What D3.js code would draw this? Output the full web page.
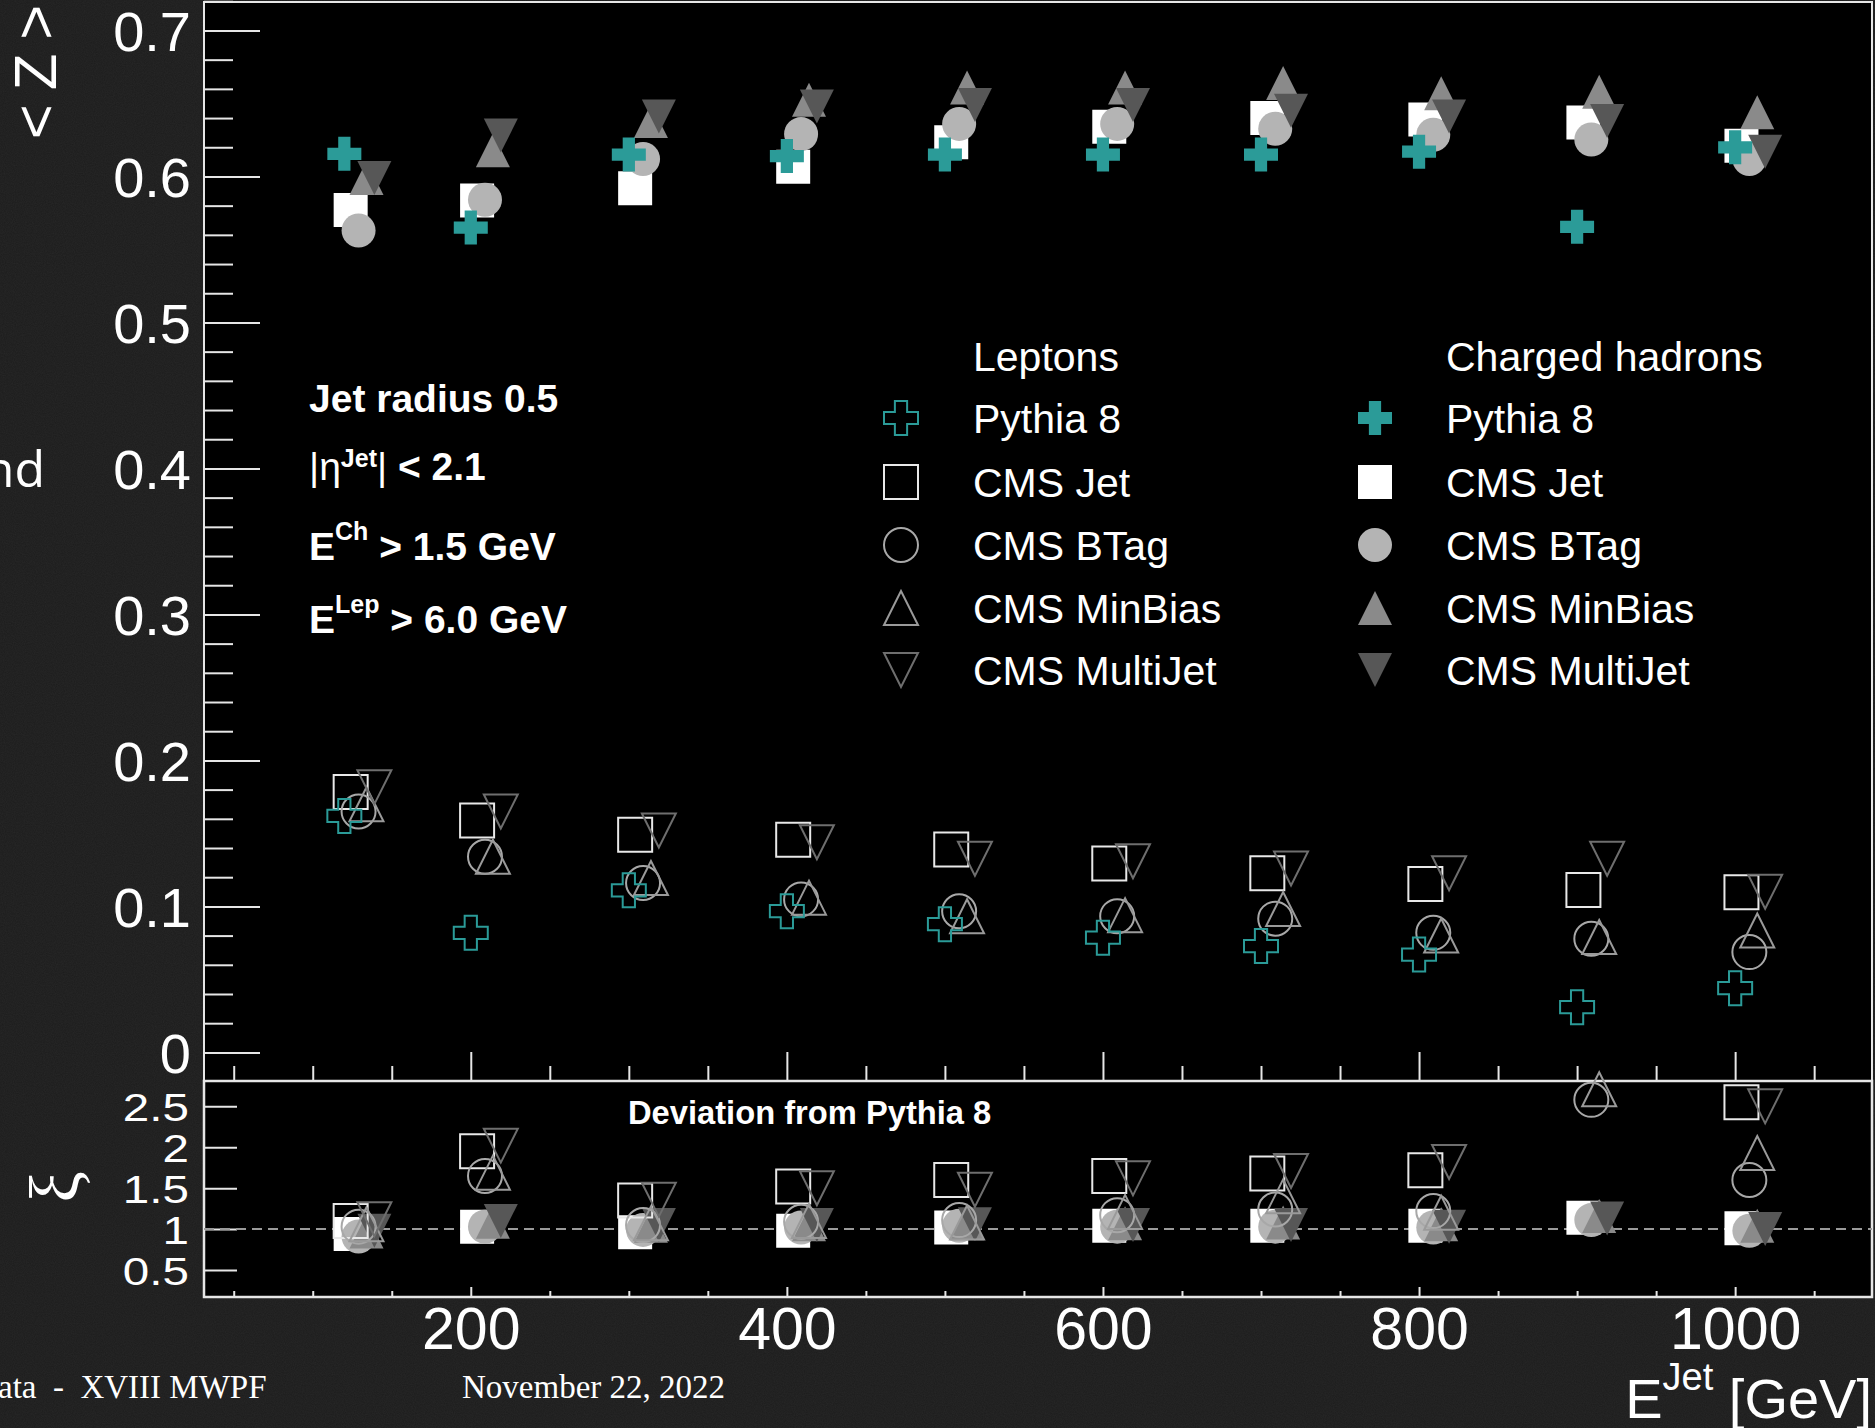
<!DOCTYPE html>
<html><head><meta charset="utf-8">
<script src="https://cdn.jsdelivr.net/npm/d3@7"></script>
<style>
html,body{margin:0;padding:0;background:#1c1c1c;}
svg{display:block;}
text{fill:#fff;}
</style></head><body>
<svg id="chart" width="1875" height="1428"></svg>
<script>
// Jet energy bins (GeV)
const energies = [120, 200, 300, 400, 500, 600, 700, 800, 900, 1000];

// <Z> for charged hadrons
const chPythia   = [0.6155, 0.565, 0.615, 0.614, 0.615, 0.615, 0.615, 0.617, 0.5655, 0.620];
const chJet      = [0.577, 0.5836, 0.592, 0.6066, 0.6235, 0.634, 0.640, 0.639, 0.637, 0.621];
const chBTag     = [0.563, 0.584, 0.612, 0.629, 0.636, 0.636, 0.6327, 0.6286, 0.6253, 0.612];
const chMinBias  = [0.599, 0.618, 0.638, 0.6525, 0.661, 0.661, 0.664, 0.657, 0.658, 0.644];
const chMultiJet = [0.599, 0.628, 0.641, 0.648, 0.649, 0.649, 0.645, 0.641, 0.638, 0.617];

// <Z> for leptons
const lepPythia   = [0.162, 0.0819, 0.111, 0.0967, 0.0878, 0.0786, 0.0728, 0.067, 0.031, 0.044];
const lepJet      = [0.1784, 0.1588, 0.149, 0.1457, 0.139, 0.1293, 0.1227, 0.1154, 0.1113, 0.1097];
const lepBTag     = [0.165, 0.134, 0.116, 0.1048, 0.0967, 0.0933, 0.0916, 0.0819, 0.0778, 0.0687];
const lepMinBias  = [0.170, 0.134, 0.1195, 0.106, 0.0933, 0.094, 0.0982, 0.080, 0.079, 0.0835];
const lepMultiJet = [0.1817, 0.165, 0.152, 0.144, 0.1326, 0.131, 0.126, 0.1227, 0.1326, 0.110];

// Deviation from Pythia 8 (CMS / Pythia)
const rChJet      = [0.94, 1.03, 0.96, 0.98, 1.02, 1.04, 1.04, 1.04, 1.14, 1.01];
const rChBTag     = [0.91, 1.03, 0.99, 1.02, 1.04, 1.03, 1.03, 1.02, 1.11, 0.98];
const rChMinBias  = [0.97, 1.09, 1.04, 1.06, 1.07, 1.07, 1.08, 1.06, 1.16, 1.04];
const rChMultiJet = [0.98, 1.10, 1.05, 1.05, 1.06, 1.05, 1.05, 1.03, 1.13, 1.00];
const rLepJet      = [1.10, 1.95, 1.35, 1.52, 1.60, 1.65, 1.68, 1.72, 3.59, 2.55];
const rLepBTag     = [1.03, 1.65, 1.05, 1.09, 1.11, 1.17, 1.24, 1.22, 2.58, 1.60];
const rLepMinBias  = [1.06, 1.69, 1.07, 1.10, 1.08, 1.21, 1.40, 1.20, 2.71, 1.93];
const rLepMultiJet = [1.12, 2.02, 1.36, 1.50, 1.48, 1.62, 1.71, 1.82, 4.28, 2.50];

// Axis ticks
const xMajorTicks = [200, 400, 600, 800, 1000];
const zMajorTicks = [0, 0.1, 0.2, 0.3, 0.4, 0.5, 0.6, 0.7];
const ratioTicks  = [0.5, 1, 1.5, 2, 2.5];

const TEAL = "#2b9b98";
const SANS = "Liberation Sans, Arial, Helvetica, sans-serif";
const SERIF = "Liberation Serif, Times New Roman, serif";

// marker look for each source; "shift" spreads the markers of one bin in GeV
const sources = [
  {name: "Pythia 8",     shape: "cross",   shift: 0,  chFill: TEAL,      lepStroke: TEAL},
  {name: "CMS Jet",      shape: "square",  shift: 4,  chFill: "#ffffff", lepStroke: "#e8e8e8"},
  {name: "CMS BTag",     shape: "circle",  shift: 9,  chFill: "#b4b4b4", lepStroke: "#a8a8a8"},
  {name: "CMS MinBias",  shape: "triUp",   shift: 14, chFill: "#8a8a8a", lepStroke: "#9a9a9a"},
  {name: "CMS MultiJet", shape: "triDown", shift: 19, chFill: "#575757", lepStroke: "#6e6e6e"}
];
const chZ   = [chPythia, chJet, chBTag, chMinBias, chMultiJet];
const lepZ  = [lepPythia, lepJet, lepBTag, lepMinBias, lepMultiJet];
const chR   = [null, rChJet, rChBTag, rChMinBias, rChMultiJet];
const lepR  = [null, rLepJet, rLepBTag, rLepMinBias, rLepMultiJet];

const svg = d3.select("#chart").style("font-family", SANS);
const L = 204, R = 1872, T = 2, MID = 1081, B = 1297;

const x = d3.scaleLinear().domain([31.2, 1086.6]).range([L, R]);
const yZ = d3.scaleLinear().domain([-0.0196, 0.7195]).range([MID, T]);
const yR = d3.scaleLinear().domain([0.17, 2.81]).range([B, MID]);

// subtle grain on the page background
const defs = svg.append("defs");
const grain = defs.append("filter").attr("id", "grain").attr("x", 0).attr("y", 0).attr("width", "100%").attr("height", "100%");
grain.append("feTurbulence").attr("type", "fractalNoise").attr("baseFrequency", 0.9).attr("numOctaves", 2).attr("seed", 3);
grain.append("feColorMatrix").attr("values", "0 0 0 0 1  0 0 0 0 1  0 0 0 0 1  0 0 0 0.05 0");
svg.append("rect").attr("width", 1875).attr("height", 1428).attr("fill", "#1c1c1c");
svg.append("rect").attr("width", 1875).attr("height", 1428).attr("filter", "url(#grain)");

// pad frames
svg.append("rect").attr("x", L).attr("y", T).attr("width", R - L).attr("height", MID - T).attr("fill", "#000");
svg.append("rect").attr("x", L).attr("y", MID).attr("width", R - L).attr("height", B - MID).attr("fill", "#000");

function markerPath(shape, s) {
  const h = s / 2, a = s * 0.18;
  switch (shape) {
    case "square":  return `M${-h},${-h}H${h}V${h}H${-h}Z`;
    case "circle":  return d3.symbol(d3.symbolCircle, Math.PI * h * h)();
    case "triUp":   return `M${-h},${h}L${h},${h}L0,${-h}Z`;
    case "triDown": return `M${-h},${-h}L${h},${-h}L0,${h}Z`;
    case "cross":   return `M${-a},${-h}H${a}V${-a}H${h}V${a}H${a}V${h}H${-a}V${a}H${-h}V${-a}H${-a}Z`;
  }
}
const MS = 34;
function styleMarker(sel, src, filled) {
  if (filled) sel.attr("fill", src.chFill).attr("stroke", "none");
  else sel.attr("fill", "none").attr("stroke", src.lepStroke).attr("stroke-width", 2);
}

// ---------- axes: upper pad ----------
const axisFont = g => g.attr("font-family", null).selectAll("text").attr("fill", "#fff").style("font-family", SANS);
const axisLine = g => { g.select(".domain").remove(); g.selectAll("line").attr("stroke", "#e6e6e6").attr("stroke-width", 2); };

const zMinor = d3.range(0, 0.7201, 0.02).filter(v => !zMajorTicks.some(m => Math.abs(m - v) < 1e-6));
svg.append("g").attr("transform", `translate(${L},0)`)
  .call(d3.axisLeft(yZ).tickValues(zMinor).tickSizeInner(-29).tickSizeOuter(0).tickFormat(""))
  .call(axisLine);
svg.append("g").attr("transform", `translate(${L},0)`)
  .call(d3.axisLeft(yZ).tickValues(zMajorTicks).tickSizeInner(-56).tickSizeOuter(0).tickPadding(13).tickFormat(d => String(+d.toFixed(1))))
  .call(axisLine).call(axisFont)
  .selectAll("text").attr("font-size", 56).attr("dy", "0.36em");

const xMinor = d3.range(50, 1086, 50).filter(v => !xMajorTicks.includes(v));
svg.append("g").attr("transform", `translate(0,${MID})`)
  .call(d3.axisBottom(x).tickValues(xMinor).tickSizeInner(-15).tickSizeOuter(0).tickFormat(""))
  .call(axisLine);
svg.append("g").attr("transform", `translate(0,${MID})`)
  .call(d3.axisBottom(x).tickValues(xMajorTicks).tickSizeInner(-29).tickSizeOuter(0).tickFormat(""))
  .call(axisLine);

// ---------- axes: ratio pad ----------
svg.append("g").attr("transform", `translate(${L},0)`)
  .call(d3.axisLeft(yR).tickValues(ratioTicks).tickSizeInner(-33).tickSizeOuter(0).tickPadding(15).tickFormat(d => String(d)))
  .call(axisLine).call(axisFont)
  .selectAll("text").attr("font-size", 39)
  .each(function () {
    const t = d3.select(this);
    const xx = +t.attr("x");
    t.attr("x", 0).attr("y", 0).attr("dy", "0.36em")
     .attr("transform", `translate(${xx},0) scale(1.22,1)`);
  });
svg.append("g").attr("transform", `translate(0,${B})`)
  .call(d3.axisBottom(x).tickValues(xMinor).tickSizeInner(-6).tickSizeOuter(0).tickFormat(""))
  .call(axisLine);
svg.append("g").attr("transform", `translate(0,${B})`)
  .call(d3.axisBottom(x).tickValues(xMajorTicks).tickSizeInner(-10).tickSizeOuter(0).tickPadding(10).tickFormat(d3.format("d")))
  .call(axisLine).call(axisFont)
  .selectAll("text").attr("font-size", 59);

// frame outlines
svg.append("rect").attr("x", L).attr("y", T).attr("width", R - L).attr("height", MID - T)
  .attr("fill", "none").attr("stroke", "#e6e6e6").attr("stroke-width", 2);
svg.append("rect").attr("x", L).attr("y", MID).attr("width", R - L).attr("height", B - MID)
  .attr("fill", "none").attr("stroke", "#e6e6e6").attr("stroke-width", 2.5);

// reference line at ratio 1
svg.append("line").attr("x1", L).attr("x2", R).attr("y1", yR(1)).attr("y2", yR(1))
  .attr("stroke", "#9a9a9a").attr("stroke-width", 2).attr("stroke-dasharray", "10,6");

// ---------- markers ----------
const gPts = svg.append("g");
function drawSeries(values, src, filled, yScale) {
  const dom = yScale.domain();
  const pts = energies.map((e, i) => ({e, v: values[i]}))
    .filter(d => d.v >= dom[0] && d.v <= dom[1]);
  gPts.append("g").selectAll("path").data(pts).join("path")
    .attr("d", markerPath(src.shape, MS))
    .attr("transform", d => `translate(${x(d.e + src.shift)},${yScale(d.v)})`)
    .call(sel => styleMarker(sel, src, filled));
}
// CMS samples first, Pythia 8 over them; leptons over charged hadrons
const drawOrder = [1, 2, 3, 4, 0];
drawOrder.forEach(k => drawSeries(chZ[k], sources[k], true, yZ));
drawOrder.forEach(k => drawSeries(lepZ[k], sources[k], false, yZ));
drawOrder.forEach(k => { if (chR[k]) drawSeries(chR[k], sources[k], true, yR); });
drawOrder.forEach(k => { if (lepR[k]) drawSeries(lepR[k], sources[k], false, yR); });

// ---------- legend ----------
const legRows = [418, 482, 545, 608, 670];
const leg = svg.append("g").attr("font-size", 41);
leg.append("text").attr("x", 973).attr("y", 356).attr("dy", "0.36em").text("Leptons");
leg.append("text").attr("x", 1446).attr("y", 356).attr("dy", "0.36em").text("Charged hadrons");
sources.forEach((src, k) => {
  leg.append("path").attr("d", markerPath(src.shape, MS)).attr("transform", `translate(901,${legRows[k]})`)
    .call(sel => styleMarker(sel, src, false));
  leg.append("text").attr("x", 973).attr("y", legRows[k]).attr("dy", "0.36em").text(src.name);
  leg.append("path").attr("d", markerPath(src.shape, MS)).attr("transform", `translate(1375,${legRows[k]})`)
    .call(sel => styleMarker(sel, src, true));
  leg.append("text").attr("x", 1446).attr("y", legRows[k]).attr("dy", "0.36em").text(src.name);
});

// ---------- selection cuts ----------
const cuts = svg.append("g").attr("font-weight", "bold").attr("font-size", 39);
cuts.append("text").attr("x", 309).attr("y", 412).text("Jet radius 0.5");
const eta = cuts.append("text").attr("x", 309).attr("y", 480);
eta.append("tspan").attr("font-weight", "normal").text("|η");
eta.append("tspan").attr("font-size", 25).attr("dy", -13).text("Jet");
eta.append("tspan").attr("font-weight", "normal").attr("dy", 13).text("|");
eta.append("tspan").text(" < 2.1");
const ech = cuts.append("text").attr("x", 309).attr("y", 560);
ech.append("tspan").text("E");
ech.append("tspan").attr("font-size", 25).attr("dy", -20).text("Ch");
ech.append("tspan").attr("dy", 20).text(" > 1.5 GeV");
const elep = cuts.append("text").attr("x", 309).attr("y", 633);
elep.append("tspan").text("E");
elep.append("tspan").attr("font-size", 25).attr("dy", -20).text("Lep");
elep.append("tspan").attr("dy", 20).text(" > 6.0 GeV");

svg.append("text").attr("x", 628).attr("y", 1124).attr("font-weight", "bold").attr("font-size", 32.7)
  .text("Deviation from Pythia 8");

// ---------- axis titles ----------
const zt = svg.append("text").attr("transform", "translate(34,72) rotate(-90)").attr("text-anchor", "middle")
  .attr("dy", "0.36em").attr("font-size", 60).style("letter-spacing", "14px").attr("dx", 7).text("<Z>");
svg.append("text").attr("transform", "translate(57,1187) rotate(-90)").attr("text-anchor", "middle")
  .attr("dy", "0.3em").attr("font-size", 70).style("font-family", SERIF).text("ξ");
const xt = svg.append("text").attr("x", 1872).attr("y", 1418).attr("text-anchor", "end").attr("font-size", 56);
xt.append("tspan").text("E");
xt.append("tspan").attr("font-size", 38).attr("dy", -28).text("Jet");
xt.append("tspan").attr("dy", 28).text(" [GeV]");

// ---------- slide surroundings ----------
svg.append("text").attr("x", 45).attr("y", 487).attr("text-anchor", "end").attr("font-size", 50)
  .style("font-family", "Open Sans, sans-serif").attr("fill", "#eee").text("nd");
svg.append("text").attr("x", -2).attr("y", 1398).attr("font-size", 33).style("font-family", SERIF)
  .style("white-space", "pre").text("ata  -  XVIII MWPF");
svg.append("text").attr("x", 462).attr("y", 1398).attr("font-size", 33).style("font-family", SERIF)
  .text("November 22, 2022");
</script>
</body></html>
